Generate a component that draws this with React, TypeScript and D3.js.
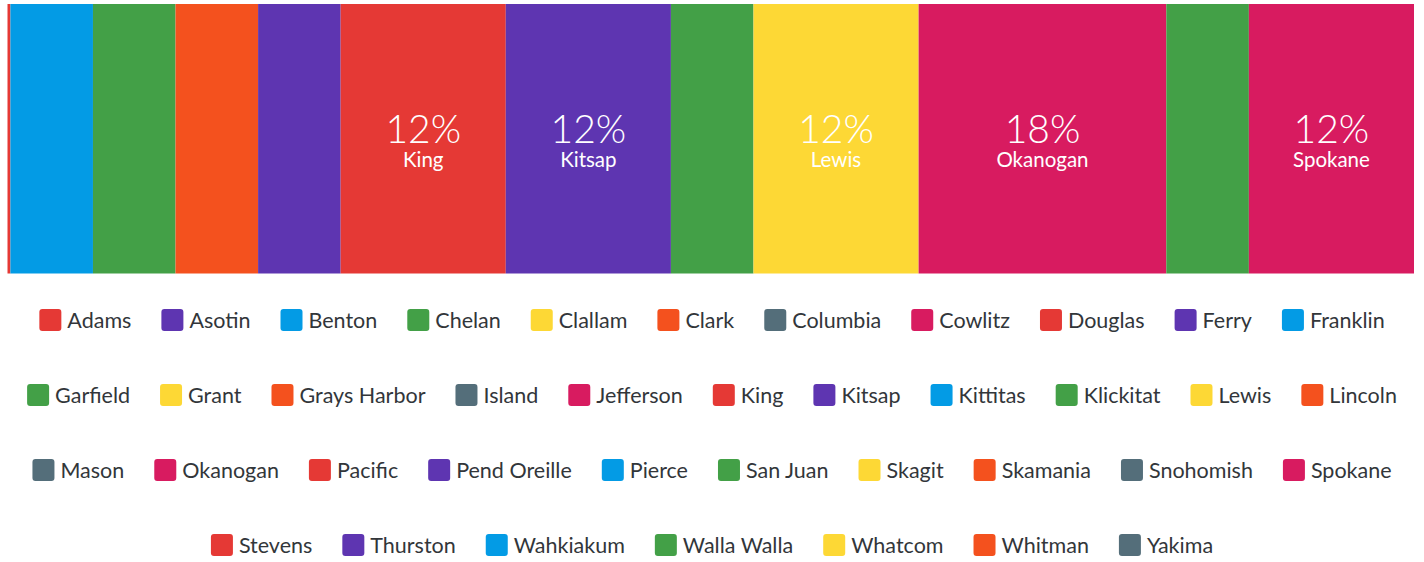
import React, { useEffect, useRef } from "react";
import * as d3 from "d3";

const counties = [
  "Adams", "Asotin", "Benton", "Chelan", "Clallam", "Clark", "Columbia", "Cowlitz", "Douglas", "Ferry", "Franklin",
  "Garfield", "Grant", "Grays Harbor", "Island", "Jefferson", "King", "Kitsap", "Kittitas", "Klickitat", "Lewis", "Lincoln",
  "Mason", "Okanogan", "Pacific", "Pend Oreille", "Pierce", "San Juan", "Skagit", "Skamania", "Snohomish", "Spokane",
  "Stevens", "Thurston", "Wahkiakum", "Walla Walla", "Whatcom", "Whitman", "Yakima",
];

const values = [
  0.035, 0, 1, 1, 0, 1, 0, 0, 0, 1, 0,
  0, 0, 0, 0, 0, 2, 2, 0, 1, 2, 0,
  0, 3, 0, 0, 0, 1, 0, 0, 0, 2,
  0, 0, 0, 0, 0, 0, 0,
];

const palette = ["#E53935", "#5E35B1", "#039BE5", "#43A047", "#FDD835", "#F4511E", "#546E7A", "#D81B60"];

const W = 1424;
const H = 562;
const FONT = "Lato, 'Open Sans', sans-serif";

export default function App() {
  const ref = useRef<SVGSVGElement | null>(null);

  useEffect(() => {
    const svg = d3.select(ref.current);
    svg.selectAll("*").remove();

    const total = d3.sum(values);
    const color = d3.scaleOrdinal<string, string>().domain(counties).range(palette);
    const x = d3.scaleLinear().domain([0, total]).range([7.5, 1414]);
    const barTop = 4;
    const barBottom = 273.5;

    let acc = 0;
    const segs = counties.map((c, i) => {
      const s = { name: c, v: values[i], x0: acc, x1: acc + values[i] };
      acc += values[i];
      return s;
    }).filter((s) => s.v > 0);

    const g = svg.append("g");
    g.selectAll("rect")
      .data(segs)
      .join("rect")
      .attr("x", (d) => x(d.x0))
      .attr("y", barTop)
      .attr("width", (d) => x(d.x1) - x(d.x0))
      .attr("height", barBottom - barTop)
      .attr("fill", (d) => color(d.name));

    const labeled = segs.filter((d) => x(d.x1) - x(d.x0) > 100);
    const cy = (barTop + barBottom) / 2;
    const lg = g.selectAll("g.lbl").data(labeled).join("g").attr("class", "lbl")
      .attr("transform", (d) => `translate(${(x(d.x0) + x(d.x1)) / 2},${cy})`);
    lg.append("text")
      .attr("text-anchor", "middle")
      .attr("y", 4.5)
      .attr("fill", "#fff")
      .style("font-family", FONT)
      .style("font-weight", 300)
      .style("font-size", "39px")
      .text((d) => `${Math.round((d.v / total) * 100)}%`);
    lg.append("text")
      .attr("text-anchor", "middle")
      .attr("y", 28.5)
      .attr("fill", "#fff")
      .style("font-family", FONT)
      .style("font-size", "20.5px")
      .text((d) => d.name);

    // legend: measure, then wrap rows by width
    const sw = 22;
    const gapText = 6;
    const gapItem = 30;
    const maxRowW = 1400;
    const rowY = [320, 395, 470, 545];
    const lgRoot = svg.append("g");
    const items = counties.map((name) => {
      const ig = lgRoot.append("g");
      ig.append("rect")
        .attr("width", sw).attr("height", sw).attr("rx", 3).attr("ry", 3)
        .attr("y", -sw / 2)
        .attr("fill", color(name));
      const t = ig.append("text")
        .attr("x", sw + gapText)
        .attr("dy", "0.35em")
        .attr("fill", "#32363a")
        .style("font-family", FONT)
        .style("font-size", "21.5px")
        .text(name);
      const tw = (t.node() as SVGTextElement).getComputedTextLength();
      return { ig, w: sw + gapText + tw };
    });
    const rows: typeof items[] = [];
    let cur: typeof items = [];
    let curW = 0;
    items.forEach((it) => {
      const add = (cur.length ? gapItem : 0) + it.w;
      if (cur.length && curW + add > maxRowW) {
        rows.push(cur);
        cur = [];
        curW = 0;
      }
      curW += (cur.length ? gapItem : 0) + it.w;
      cur.push(it);
    });
    if (cur.length) rows.push(cur);
    rows.forEach((row, ri) => {
      const totalW = d3.sum(row, (d) => d.w) + gapItem * (row.length - 1);
      let cx = W / 2 - totalW / 2;
      row.forEach((it) => {
        it.ig.attr("transform", `translate(${cx},${rowY[ri] ?? rowY[rowY.length - 1] + 75 * (ri - 3)})`);
        cx += it.w + gapItem;
      });
    });
  }, []);

  return (
    <svg
      ref={ref}
      width={W}
      height={H}
      style={{ position: "absolute", left: 0, top: 0, background: "#fff" }}
    />
  );
}
